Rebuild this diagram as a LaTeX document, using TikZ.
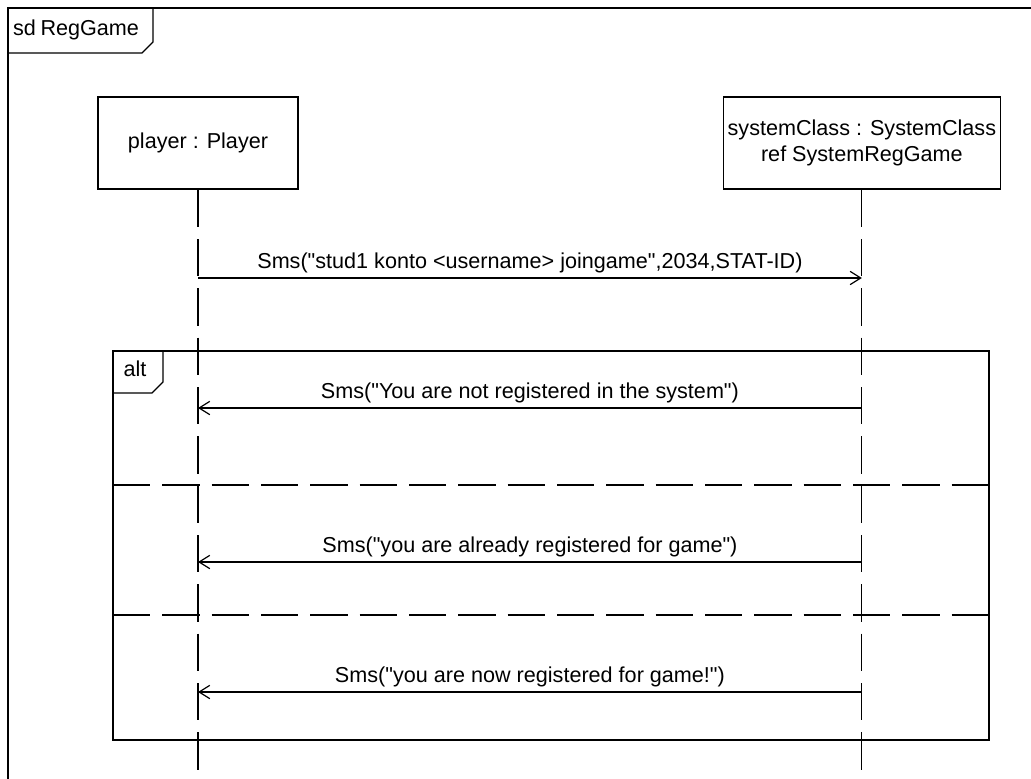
\documentclass[tikz,border=0pt]{standalone}
\usepackage{fontspec}
\newfontfamily\umlfont{Liberation Sans}
\usetikzlibrary{arrows.meta,positioning}

\tikzstyle{lifebox} = [rectangle, minimum width=150pt, minimum height=69pt, text centered, align=center, draw=black, line width=1pt, fill=white]
\tikzstyle{lifeline} = [line width=0.9pt, dash pattern=on 28pt off 9pt]
\tikzstyle{msg} = [line width=0.9pt, -{Straight Barb[length=8pt,width=10pt]}]
\tikzstyle{frame} = [line width=1pt]
\tikzstyle{divider} = [line width=0.9pt, dash pattern=on 28pt off 9pt]

\begin{document}
\begin{tikzpicture}[x=0.75pt, y=-0.75pt, node distance=2cm, font=\umlfont\fontsize{16.2}{20}\selectfont]
\useasboundingbox (0,0) rectangle (1031,778);
\clip (0,0) rectangle (1031,778);

% outer sd frame
\draw [frame] (8,8) rectangle (1045,790);
\draw [frame] (153,8) -- (153,42) -- (142,53) -- (8,53);
\node (sd_tag) at (76,30) {sd\hspace{-1pt} RegGame};

% lifelines
\node (player_obj) [lifebox] at (198,143) {player : Player};
\node (system_obj) [lifebox, minimum width=206pt, right of=player_obj, xshift=441pt]
{systemClass : SystemClass\\ref SystemRegGame};
\coordinate (bottom_ref) at (0,790);
\coordinate (player_end) at (player_obj.south |- bottom_ref);
\coordinate (system_end) at (system_obj.south |- bottom_ref);
\draw [lifeline] (player_obj.south) -- (player_end);
\draw [lifeline] (system_obj.south) -- (system_end);

% message points
\coordinate (m1_p) at (player_obj.south |- 0,278);
\coordinate (m1_s) at (system_obj.south |- 0,278);
\coordinate (m2_p) at (player_obj.south |- 0,408);
\coordinate (m2_s) at (system_obj.south |- 0,408);
\coordinate (m3_p) at (player_obj.south |- 0,562);
\coordinate (m3_s) at (system_obj.south |- 0,562);
\coordinate (m4_p) at (player_obj.south |- 0,692);
\coordinate (m4_s) at (system_obj.south |- 0,692);

\draw [msg] (m1_p) -- node[anchor=south] {Sms("stud1 konto <username> joingame",2034,STAT-ID)} (m1_s);

% alt fragment
\draw [frame] (113,351) rectangle (989,740);
\draw [frame] (163,351) -- (163,382) -- (152,393) -- (113,393);
\node (alt_tag) at (135,369) {alt};
\draw [divider] (113,485) -- (989,485);
\draw [divider] (113,615) -- (989,615);

\draw [msg] (m2_s) -- node[anchor=south] {Sms("You are not registered in the system")} (m2_p);
\draw [msg] (m3_s) -- node[anchor=south] {Sms("you are already registered for game")} (m3_p);
\draw [msg] (m4_s) -- node[anchor=south] {Sms("you are now registered for game!")} (m4_p);
\end{tikzpicture}
\end{document}
